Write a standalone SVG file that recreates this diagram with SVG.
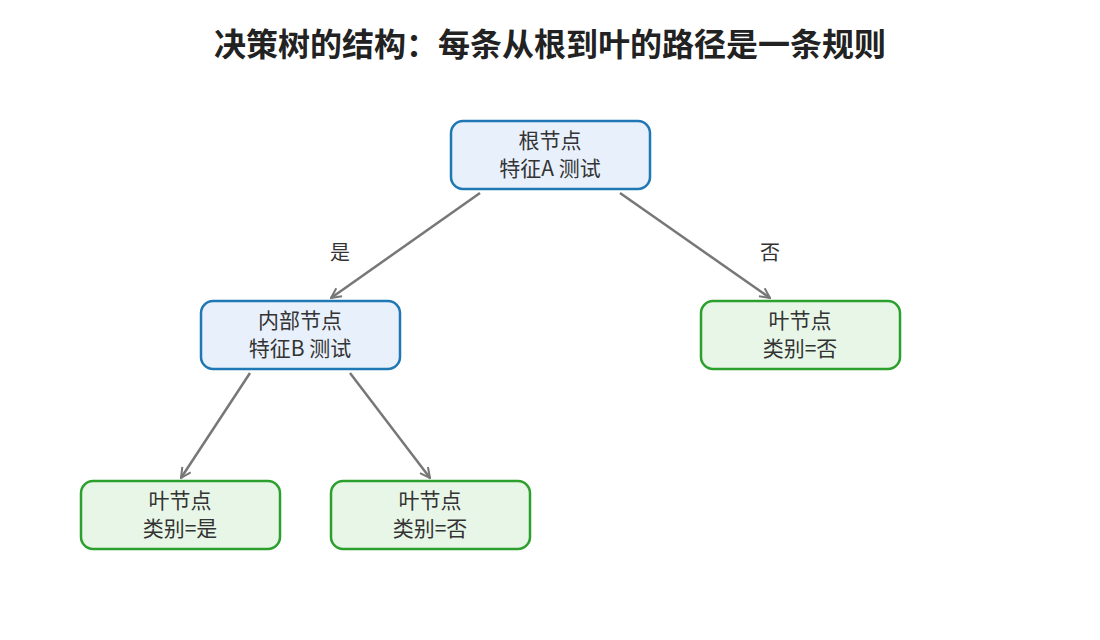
<svg xmlns="http://www.w3.org/2000/svg" width="1100" height="640" viewBox="0 0 1100 640">
<style>
text{font-family:"Noto Sans CJK SC","Noto Sans",sans-serif;fill:#333;}
.title{font-size:32px;font-weight:bold;fill:#222;}
.lbl{font-size:21px;}
.elbl{font-size:20px;}
.inner rect{fill:#e8f0fc;stroke:#1f77b4;stroke-width:2.5;}
.leaf rect{fill:#e8f6e8;stroke:#2ca02c;stroke-width:2.5;}
.edge{stroke:#777;stroke-width:2.5;fill:none;marker-end:url(#arr);}
</style>
<defs>
<marker id="arr" viewBox="0 0 12 12" refX="11" refY="6" markerWidth="12" markerHeight="12" markerUnits="userSpaceOnUse" orient="auto">
<path d="M1,1 L11,6 L1,11" fill="none" stroke="#777" stroke-width="2"/>
</marker>
</defs>
<rect width="1100" height="640" fill="#fff"/>
<text class="title" x="550" y="56" text-anchor="middle">决策树的结构：每条从根到叶的路径是一条规则</text>
<g id="connectors">
<line class="edge" x1="480" y1="193" x2="331" y2="298"/>
<line class="edge" x1="620" y1="193" x2="770" y2="298"/>
<line class="edge" x1="250" y1="373" x2="181" y2="478"/>
<line class="edge" x1="350" y1="373" x2="430" y2="478"/>
<text class="elbl" x="340" y="260" text-anchor="middle">是</text>
<text class="elbl" x="770" y="260" text-anchor="middle">否</text>
</g>
<g id="root" class="inner">
<rect x="451" y="121" width="199" height="68" rx="12"/>
<text class="lbl" x="550" y="148" text-anchor="middle">根节点</text>
<text class="lbl" x="550" y="176" text-anchor="middle">特征A 测试</text>
</g>
<g id="internal" class="inner">
<rect x="201" y="301" width="199" height="68" rx="12"/>
<text class="lbl" x="300" y="328" text-anchor="middle">内部节点</text>
<text class="lbl" x="300" y="356" text-anchor="middle">特征B 测试</text>
</g>
<g id="leafRight" class="leaf">
<rect x="701" y="301" width="199" height="68" rx="12"/>
<text class="lbl" x="800" y="328" text-anchor="middle">叶节点</text>
<text class="lbl" x="800" y="356" text-anchor="middle">类别=否</text>
</g>
<g id="leafYes" class="leaf">
<rect x="81" y="481" width="199" height="68" rx="12"/>
<text class="lbl" x="180" y="508" text-anchor="middle">叶节点</text>
<text class="lbl" x="180" y="536" text-anchor="middle">类别=是</text>
</g>
<g id="leafNo" class="leaf">
<rect x="331" y="481" width="199" height="68" rx="12"/>
<text class="lbl" x="430" y="508" text-anchor="middle">叶节点</text>
<text class="lbl" x="430" y="536" text-anchor="middle">类别=否</text>
</g>
</svg>
